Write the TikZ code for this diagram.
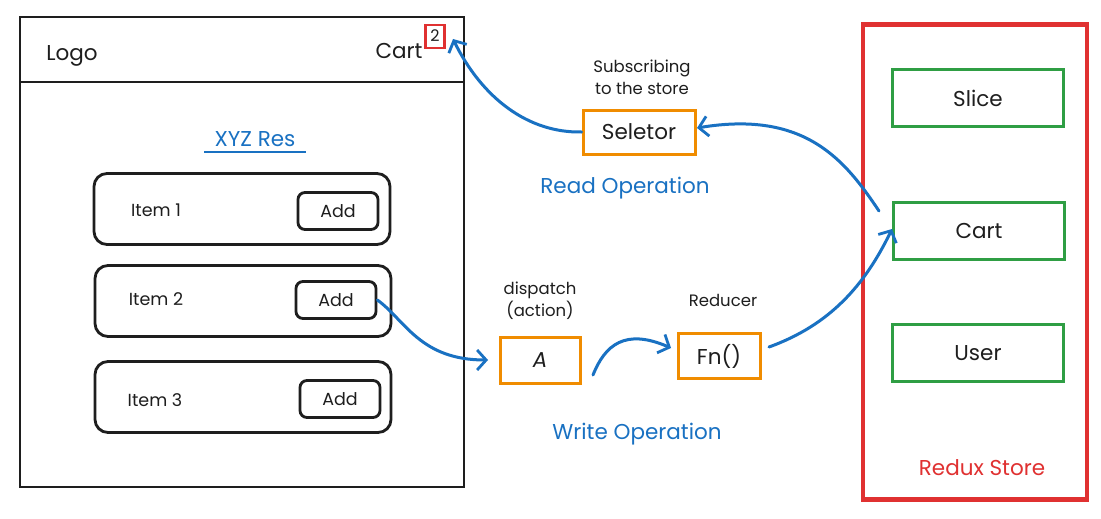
\documentclass[tikz,border=0pt]{standalone}
\usepackage{fontspec}
\setmainfont{Poppins}
\usetikzlibrary{arrows.meta}
\definecolor{ink}{HTML}{1E1E1E}
\definecolor{xblue}{HTML}{1971C2}
\definecolor{xorange}{HTML}{F08C00}
\definecolor{xgreen}{HTML}{2F9E44}
\definecolor{xred}{HTML}{E03131}
\tikzset{
  fbig/.style={font=\fontsize{21.5}{25}\selectfont},
  fmid/.style={font=\fontsize{17.5}{21}\selectfont},
  fsmall/.style={font=\fontsize{16.5}{22}\selectfont},
  plain/.style={inner sep=0pt, text=ink},
  pagebox/.style={draw=ink, line width=2.8pt, inner sep=0pt},
  itembox/.style={draw=ink, line width=2.8pt, rounded corners=13pt, inner sep=0pt, minimum width=296pt, minimum height=71pt},
  addbox/.style={draw=ink, line width=2.8pt, rounded corners=7pt, inner sep=0pt, minimum width=80pt, minimum height=37pt, fmid, text=ink},
  obox/.style={draw=xorange, line width=3pt, inner sep=0pt, text=ink},
  gbox/.style={draw=xgreen, line width=2.6pt, inner sep=0pt, minimum width=171pt, minimum height=57pt, fbig, text=ink},
  flow/.style={draw=xblue, line width=3pt, line cap=round, -{Straight Barb[length=9pt,width=20pt,line width=2.8pt]}},
}
\begin{document}
\begin{tikzpicture}[x=1pt,y=-1pt]
\useasboundingbox[fill=white] (0,0) rectangle (1101,519);
% left page
\node[pagebox, minimum width=444pt, minimum height=470pt] (page) at (242,252) {};
\coordinate (hdl) at (20,82);
\coordinate (hdr) at (464,82);
\draw[ink, line width=2.8pt] (hdl) -- (hdr);
\node[plain, fbig, anchor=base] (logo) at (72,61) {Logo};
\node[plain, fbig, anchor=base] (cart) at (399,59) {Cart};
\node[draw=xred, line width=2.4pt, minimum width=19pt, minimum height=23pt, inner sep=0pt, font=\fontsize{16}{18}\selectfont, text=ink, anchor=north] (badge) at (435,24) {\raisebox{3pt}{2}};
\node[inner sep=0pt, fbig, text=xblue, anchor=base] (xyz) at (255,146) {XYZ Res};
\coordinate (ulA) at (204,152);
\coordinate (ulB) at (306,152);
\draw[xblue, line width=2.4pt] (ulA) -- (ulB);
% items
\node[itembox] (it1) at (242,209) {};
\node[itembox] (it2) at (243,301) {};
\node[itembox] (it3) at (243,397) {};
\node[plain, fmid, anchor=base] (t1) at (156,216) {Item 1};
\node[plain, fmid, anchor=base] (t2) at (156,305) {Item 2};
\node[plain, fmid, anchor=base] (t3) at (155,406) {Item 3};
\node[addbox] (a1) at (338,211) {Add};
\node[addbox] (a2) at (336,300) {Add};
\node[addbox] (a3) at (340,399) {Add};
% middle
\node[plain, fsmall, align=center] (sub) at (642,77) {Subscribing\\to the store};
\node[obox, fbig, minimum width=112pt, minimum height=44pt] (sel) at (639,132) {Seletor};
\node[inner sep=0pt, fbig, text=xblue] (readop) at (625,188) {Read Operation};
\node[plain, fsmall, align=center] (disp) at (540,301) {dispatch\\(action)};
\node[obox, fbig, minimum width=80pt, minimum height=46pt] (act) at (540,360) {\itshape A};
\node[plain, fsmall] (red) at (723,300) {Reducer};
\node[obox, fbig, minimum width=82pt, minimum height=45pt] (fn) at (719,356) {Fn()};
\node[inner sep=0pt, fbig, text=xblue] (writeop) at (637,434) {Write Operation};
% store
\node[draw=xred, line width=4.5pt, inner sep=0pt, minimum width=224pt, minimum height=475pt] (store) at (975,262) {};
\node[gbox] (slice) at (978,98) {Slice};
\node[gbox] (scart) at (979,231) {Cart};
\node[gbox] (user) at (978,353) {User};
\node[inner sep=0pt, fbig, text=xred] (rs) at (982,468) {Redux Store};
% connectors
\coordinate (badgeTip) at (453,39);
\coordinate (storeOut) at (879,211);
\coordinate (actIn) at (488,360);
\coordinate (actOut) at (593,375);
\coordinate (fnIn) at (671,348);
\coordinate (fnOut) at (769,347);
\coordinate (cartIn) at (892,229);
\coordinate (selIn) at (697,128);
\draw[flow] (sel.west) .. controls (528,133) and (482,98) .. (badgeTip);
\draw[flow] (storeOut) .. controls (845,160) and (805,110) .. (selIn);
\draw[flow] (a2.east) .. controls (405,320) and (420,360) .. (actIn);
\draw[flow] (actOut) .. controls (605,345) and (625,328) .. (fnIn);
\draw[flow] (fnOut) .. controls (830,325) and (865,285) .. (cartIn);
\end{tikzpicture}
\end{document}
